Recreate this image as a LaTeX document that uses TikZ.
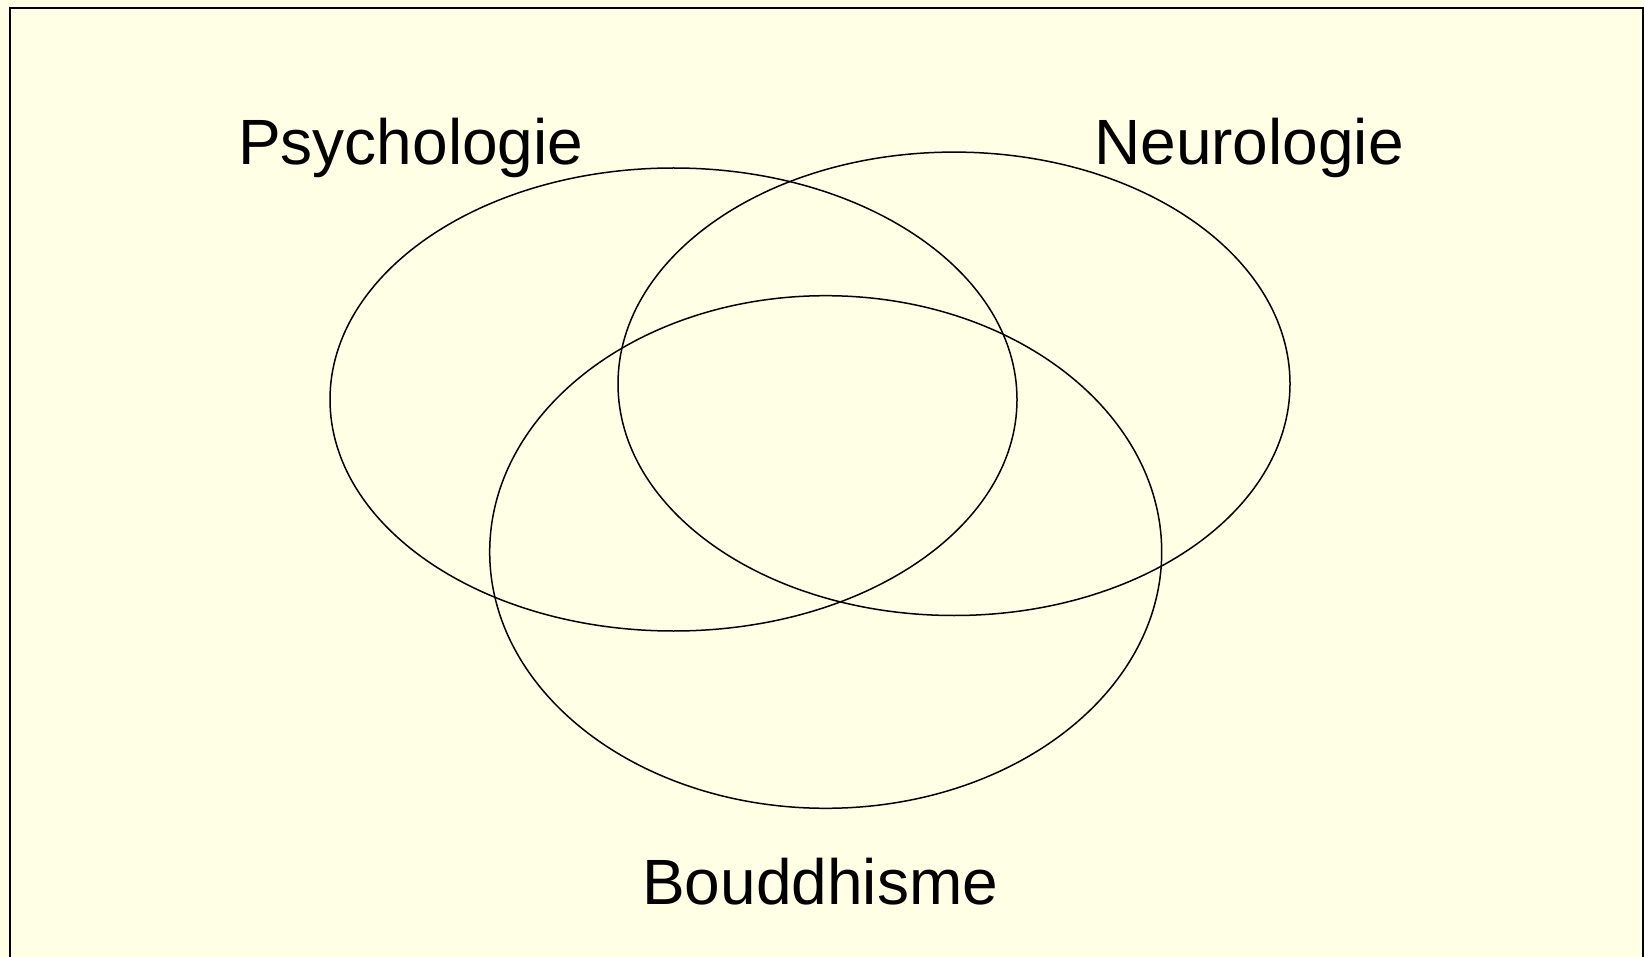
\documentclass[tikz,border=0pt]{standalone}
\usepackage{fontspec}
\setmainfont{Liberation Sans}
\definecolor{bgyellow}{RGB}{255,255,229}
\begin{document}
\begin{tikzpicture}[x=1pt,y=-1pt,
  setellipse/.style={draw=black,line width=1.5pt},
  lab/.style={anchor=base west,inner sep=0pt,font=\fontsize{64}{76}\selectfont}]
\useasboundingbox (0,0) rectangle (1644,957);
\fill[bgyellow] (0,0) rectangle (1644,957);
\begin{scope}
\clip (0,0) rectangle (1644,957);
\draw[line width=2pt] (10.3,970) -- (10.3,8) -- (1642.5,8) -- (1642.5,970);
\end{scope}
\draw[setellipse] (673.5,399.5) ellipse [x radius=343.5, y radius=231.5];
\draw[setellipse] (954,383.8) ellipse [x radius=336, y radius=231.7];
\draw[setellipse] (825.7,552) ellipse [x radius=336, y radius=256.3];
\node[lab] (psy) at (238,164.6) {Psychologie};
\node[lab] (neu) at (1094,164.6) {Neurologie};
\node[lab] (bou) at (642,904) {Bouddhisme};
\end{tikzpicture}
\end{document}
